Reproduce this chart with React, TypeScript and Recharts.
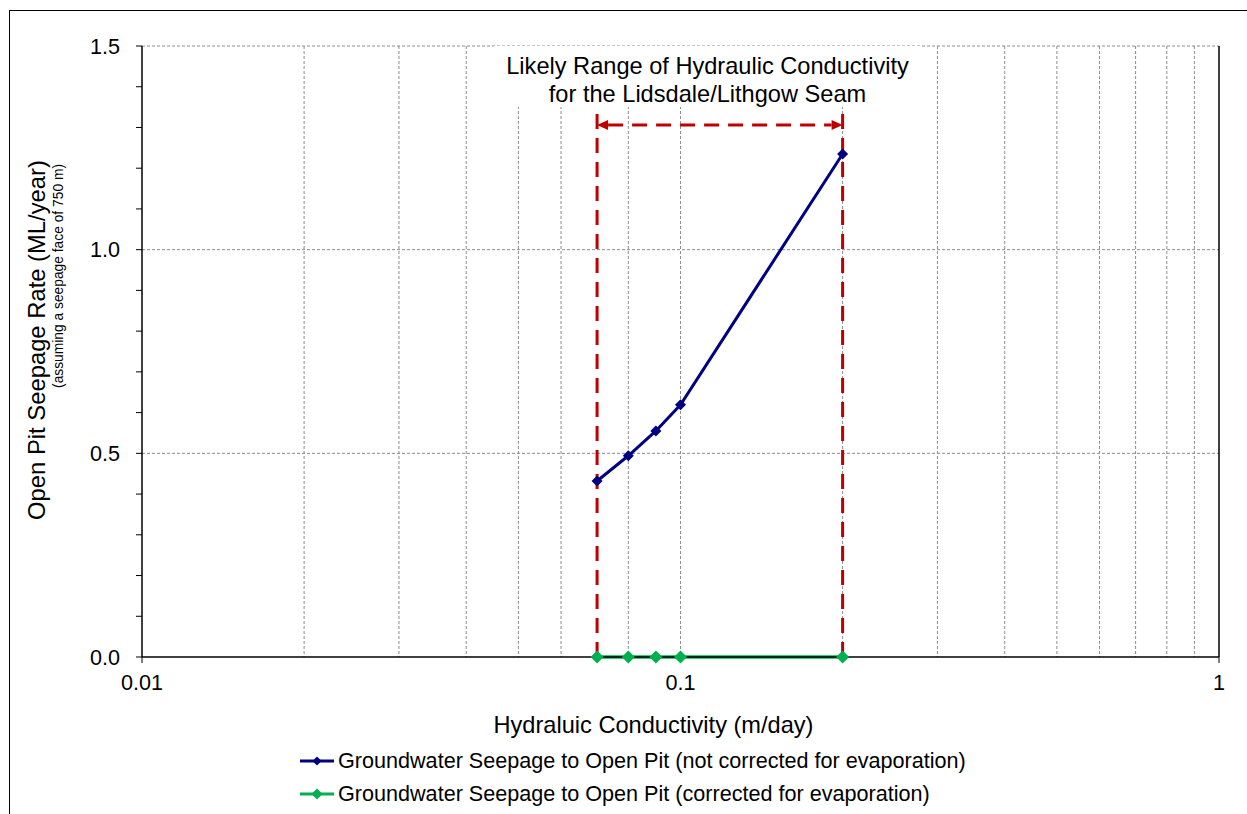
import React from "react";
import {
  CartesianGrid,
  Legend,
  Line,
  LineChart,
  ReferenceArea,
  ReferenceLine,
  XAxis,
  YAxis,
} from "recharts";

// Open pit seepage vs hydraulic conductivity (log x axis), with the likely
// conductivity range of the seam marked by a red dashed box + arrow.

const conductivity = [0.07, 0.08, 0.09, 0.1, 0.2];
const seepageUncorrected = [0.432, 0.494, 0.555, 0.619, 1.235];
const seepageCorrected = [0, 0, 0, 0, 0];

const xTicks = [0.01, 0.1, 1];
const yTicks = [0, 0.1, 0.2, 0.3, 0.4, 0.5, 0.6, 0.7, 0.8, 0.9, 1.0, 1.1, 1.2, 1.3, 1.4, 1.5];
const yLabelled = [0, 0.5, 1.0, 1.5];
const xGrid = [0.02, 0.03, 0.04, 0.05, 0.06, 0.07, 0.08, 0.09, 0.1, 0.2, 0.3, 0.4, 0.5, 0.6, 0.7, 0.8, 0.9];
const yGrid = [0.5, 1.0, 1.5];

const likelyRange = [0.07, 0.2];
const arrowLevel = 1.306;
const rangeTop = 1.348;
// white box behind the annotation text (hides the grid lines there)
const noteBoxX = [0.045, 0.28];
const noteBoxY = [1.35, 1.5];
const noteLines = ["Likely Range of Hydraulic Conductivity", "for the Lidsdale/Lithgow Seam"];

const seriesNames = [
  "Groundwater Seepage to Open Pit (not corrected for evaporation)",
  "Groundwater Seepage to Open Pit (corrected for evaporation)",
];
const xTitle = "Hydraluic Conductivity (m/day)";
const yTitle = "Open Pit Seepage Rate (ML/year)";
const ySubTitle = "(assuming a seepage face of 750 m)";

const FONT = "'Liberation Sans', Arial, sans-serif";
const NAVY = "#000080";
const GREEN = "#00b050";
const RED = "#c00000";
const GRID = "#8c8c8c";

const data = conductivity.map((k, i) => ({
  k,
  raw: seepageUncorrected[i],
  corr: seepageCorrected[i],
}));

const diamond = (r: number, color: string) => (p: any) => {
  const { cx, cy, key, index } = p;
  if (cx == null || cy == null) return <g key={key ?? index} />;
  return (
    <polygon
      key={key ?? index}
      points={`${cx},${cy - r} ${cx + r},${cy} ${cx},${cy + r} ${cx - r},${cy}`}
      fill={color}
    />
  );
};

const ArrowLine = (props: any) => {
  const { x1, y1, x2, y2 } = props;
  const left = Math.min(x1, x2);
  const right = Math.max(x1, x2);
  const w = 11;
  const h = 5;
  return (
    <g>
      <line
        x1={left + w}
        y1={y1}
        x2={right - w}
        y2={y2}
        stroke={RED}
        strokeWidth={3}
        strokeDasharray="15 9"
      />
      <polygon points={`${left},${y1} ${left + w},${y1 - h} ${left + w},${y1 + h}`} fill={RED} />
      <polygon points={`${right},${y2} ${right - w},${y2 - h} ${right - w},${y2 + h}`} fill={RED} />
    </g>
  );
};

const NoteLabel = (props: any) => {
  const vb = props.viewBox || {};
  const cx = vb.x + vb.width / 2;
  return (
    <g fontFamily={FONT} fontSize={23.6} fill="#000">
      <text x={cx} y={74} textAnchor="middle">{noteLines[0]}</text>
      <text x={cx} y={102} textAnchor="middle">{noteLines[1]}</text>
    </g>
  );
};

const XTitle = (props: any) => {
  const vb = props.viewBox || {};
  return (
    <text x={vb.x + vb.width / 2 - 27} y={733} textAnchor="middle" fontFamily={FONT} fontSize={23.6} fill="#000">
      {xTitle}
    </text>
  );
};

const YTitle = () => (
  <g fontFamily={FONT} fill="#000">
    <text x={45} y={340} transform="rotate(-90 45 340)" textAnchor="middle" fontSize={23.8}>
      {yTitle}
    </text>
    <text x={63} y={276} transform="rotate(-90 63 276)" textAnchor="middle" fontSize={13.8}>
      {ySubTitle}
    </text>
  </g>
);

// y axis tick: short tick line for every 0.1, text only on the 0.5 steps
const YTick = (props: any) => {
  const { x, y, payload } = props;
  const v = payload?.value ?? 0;
  const labelled = yLabelled.some((t) => Math.abs(t - v) < 1e-6);
  return (
    <g>
      <line x1={142 - 6} y1={y} x2={142} y2={y} stroke="#000" strokeWidth={1} />
      {labelled && (
        <text x={x} y={y} dy="0.36em" textAnchor="end" fontFamily={FONT} fontSize={21.6} fill="#000">
          {v.toFixed(1)}
        </text>
      )}
    </g>
  );
};

const LegendBox = () => {
  const colors = [NAVY, GREEN];
  const sizes = [4.5, 5.5];
  return (
    <div style={{ fontFamily: FONT, fontSize: 21.6, color: "#000" }}>
      {seriesNames.map((name, i) => (
        <div key={name} style={{ display: "flex", alignItems: "center", height: 33 }}>
          <svg width={40} height={20} style={{ display: "block" }}>
            <line x1={2} y1={10} x2={36} y2={10} stroke={colors[i]} strokeWidth={3} />
            <polygon
              points={`19,${10 - sizes[i]} ${19 + sizes[i]},10 19,${10 + sizes[i]} ${19 - sizes[i]},10`}
              fill={colors[i]}
            />
          </svg>
          <span style={{ whiteSpace: "nowrap" }}>{name}</span>
        </div>
      ))}
    </div>
  );
};

export default function App() {
  return (
    <div style={{ position: "absolute", left: 0, top: 0, width: 1247, height: 814, background: "#fff", overflow: "hidden" }}>
      <div
        style={{
          position: "absolute",
          left: 9,
          top: 10,
          width: 1300,
          height: 900,
          borderTop: "1.5px solid #000",
          borderLeft: "1.5px solid #000",
        }}
      />
      <LineChart
        width={1247}
        height={814}
        data={data}
        margin={{ top: 46, right: 28, left: 0, bottom: 0 }}
        style={{ fontFamily: FONT }}
      >
        <CartesianGrid
          horizontal
          vertical
          horizontalValues={yGrid}
          verticalValues={xGrid}
          stroke={GRID}
          strokeDasharray="3 2"
        />
        <XAxis
          type="number"
          dataKey="k"
          scale="log"
          domain={[0.01, 1]}
          ticks={xTicks}
          allowDataOverflow
          height={157}
          tickSize={6}
          tickMargin={12}
          tickFormatter={(v: number) => String(v)}
          tick={{ fill: "#000", fontSize: 21.6, fontFamily: FONT }}
          axisLine={{ stroke: "#000", strokeWidth: 1.5 }}
          tickLine={{ stroke: "#000", strokeWidth: 1 }}
          label={{ content: XTitle }}
        />
        <YAxis
          type="number"
          domain={[0, 1.5]}
          ticks={yTicks}
          interval={0}
          width={142}
          tickSize={6}
          tickMargin={16}
          tick={<YTick />}
          tickLine={false}
          axisLine={{ stroke: "#000", strokeWidth: 1.5 }}
          label={{ content: YTitle }}
        />
        <ReferenceLine x={1} stroke="#000" strokeWidth={1.5} />

        <ReferenceArea
          x1={noteBoxX[0]}
          x2={noteBoxX[1]}
          y1={noteBoxY[0]}
          y2={noteBoxY[1]}
          fill="#fff"
          fillOpacity={1}
          stroke="none"
          label={{ content: NoteLabel }}
        />

        {likelyRange.map((k) => (
          <ReferenceLine
            key={k}
            segment={[
              { x: k, y: 0 },
              { x: k, y: rangeTop },
            ]}
            stroke={RED}
            strokeWidth={3}
            strokeDasharray="15 9"
          />
        ))}
        <ReferenceLine
          segment={[
            { x: likelyRange[0], y: arrowLevel },
            { x: likelyRange[1], y: arrowLevel },
          ]}
          shape={ArrowLine}
        />

        <Legend
          layout="vertical"
          verticalAlign="middle"
          align="center"
          wrapperStyle={{ left: 298, top: 744, width: 760 }}
          content={() => <LegendBox />}
        />

        <Line
          type="linear"
          dataKey="raw"
          name={seriesNames[0]}
          stroke={NAVY}
          strokeWidth={3}
          dot={diamond(5.5, NAVY)}
          activeDot={false}
          isAnimationActive={false}
        />
        <Line
          type="linear"
          dataKey="corr"
          name={seriesNames[1]}
          stroke={GREEN}
          strokeWidth={3.5}
          dot={diamond(6.5, GREEN)}
          activeDot={false}
          isAnimationActive={false}
        />
      </LineChart>
    </div>
  );
}
